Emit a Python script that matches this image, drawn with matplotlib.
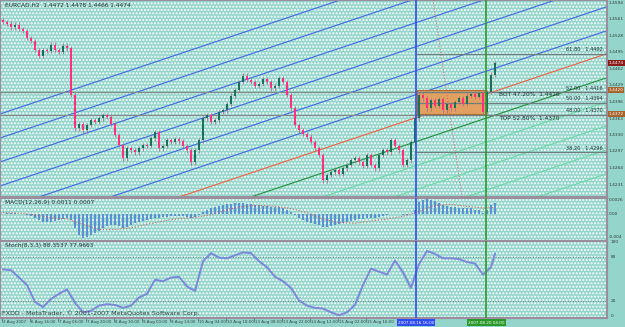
import matplotlib.pyplot as plt
import matplotlib.transforms as mtransforms
from matplotlib.patches import Rectangle

# candle closes (H2 bars), open of bar 0 given separately
first_open = 1.4560
closes = [1.4556, 1.4552, 1.4546, 1.4550, 1.4542, 1.4538, 1.4524, 1.4518, 1.4500, 1.4488,
          1.4500, 1.4498, 1.4510, 1.4500, 1.4496, 1.4508, 1.4504, 1.4410, 1.4344, 1.4352,
          1.4340, 1.4350, 1.4360, 1.4356, 1.4364, 1.4370, 1.4366, 1.4352, 1.4330, 1.4310,
          1.4284, 1.4304, 1.4300, 1.4296, 1.4304, 1.4310, 1.4308, 1.4324, 1.4336, 1.4304,
          1.4308, 1.4320, 1.4316, 1.4322, 1.4318, 1.4308, 1.4300, 1.4276, 1.4300, 1.4320,
          1.4364, 1.4370, 1.4356, 1.4360, 1.4376, 1.4380, 1.4392, 1.4408, 1.4420, 1.4436,
          1.4448, 1.4440, 1.4436, 1.4428, 1.4432, 1.4442, 1.4436, 1.4424, 1.4428, 1.4444,
          1.4436, 1.4410, 1.4384, 1.4350, 1.4340, 1.4332, 1.4326, 1.4316, 1.4304, 1.4290,
          1.4240, 1.4250, 1.4256, 1.4260, 1.4252, 1.4264, 1.4270, 1.4280, 1.4284, 1.4276,
          1.4268, 1.4290, 1.4270, 1.4264, 1.4290, 1.4300, 1.4296, 1.4320, 1.4308, 1.4300,
          1.4270, 1.4280, 1.4316, 1.4364, 1.4410, 1.4404, 1.4384, 1.4400, 1.4388, 1.4402,
          1.4380, 1.4392, 1.4384, 1.4396, 1.4404, 1.4392, 1.4408, 1.4412, 1.4406, 1.4414,
          1.4376, 1.4416, 1.4450, 1.4474]

# parallel channel lines: price at bar 0 and slope per bar
channel_slope = 0.000268
blue_lines = [1.4374, 1.4326, 1.4278, 1.4230, 1.4182, 1.4134]
red_line = 1.4088
green_dark = 1.4040
green_light = [1.3992, 1.3944, 1.3896, 1.3848, 1.3800]

# fibo levels on the right
fib_prices = [1.4492, 1.4416, 1.4394, 1.4370, 1.4296]
fib_names = ["61.80   1.4492", "52.00   1.4416", "50.00   1.4394", "48.00   1.4370", "38.20   1.4296"]
full_lines = [1.4416, 1.4370]
box_top, box_bot = 1.4420, 1.4372
fib_base_x = [107.5, 114.75]
fib_base_y = [1.4600, 1.4206]

blue_vline = 103.25
green_vline = 120.75

price_ticks = [1.4594, 1.4561, 1.4528, 1.4495, 1.4462, 1.4429, 1.4396, 1.4363, 1.4330, 1.4297, 1.4264, 1.4231]

macd_hist = [0.0000, 0.0002, 0.0002, 0.0002, 0.0000, 0.0000, -0.0002, -0.0004, -0.0008, -0.0012,
             -0.0016, -0.0016, -0.0016, -0.0014, -0.0012, -0.0010, -0.0008, -0.0012, -0.0028, -0.0040,
             -0.0046, -0.0044, -0.0040, -0.0036, -0.0032, -0.0028, -0.0024, -0.0022, -0.0022, -0.0024,
             -0.0028, -0.0026, -0.0022, -0.0018, -0.0016, -0.0014, -0.0012, -0.0010, -0.0008, -0.0008,
             -0.0006, -0.0006, -0.0004, -0.0004, -0.0004, -0.0004, -0.0006, -0.0008, -0.0006, -0.0002,
             0.0004, 0.0008, 0.0010, 0.0012, 0.0014, 0.0016, 0.0018, 0.0018, 0.0020, 0.0020,
             0.0020, 0.0018, 0.0018, 0.0016, 0.0016, 0.0014, 0.0014, 0.0012, 0.0012, 0.0012,
             0.0010, 0.0008, 0.0004, -0.0002, -0.0008, -0.0012, -0.0016, -0.0018, -0.0020, -0.0022,
             -0.0026, -0.0026, -0.0024, -0.0022, -0.0020, -0.0018, -0.0016, -0.0014, -0.0012, -0.0010,
             -0.0010, -0.0008, -0.0008, -0.0008, -0.0006, -0.0004, -0.0002, 0.0000, 0.0000, 0.0000,
             -0.0002, -0.0002, 0.0000, 0.0008, 0.0022, 0.0026, 0.0028, 0.0026, 0.0024, 0.0020,
             0.0016, 0.0014, 0.0012, 0.0012, 0.0010, 0.0010, 0.0010, 0.0010, 0.0008, 0.0008,
             0.0002, 0.0008, 0.0016, 0.0020]
macd_sig_idx = [0, 4, 8, 12, 16, 20, 24, 28, 32, 36, 40, 44, 48, 52, 56, 60, 64, 68, 72, 76,
                80, 84, 88, 92, 96, 100, 104, 108, 112, 116, 120, 123]
macd_sig = [0.0002, 0.0001, -0.0002, -0.0008, -0.0010, -0.0020, -0.0030, -0.0030, -0.0027, -0.0020,
            -0.0014, -0.0009, -0.0007, -0.0002, 0.0008, 0.0014, 0.0016, 0.0014, 0.0010, 0.0002,
            -0.0010, -0.0017, -0.0018, -0.0014, -0.0010, -0.0005, 0.0004, 0.0016, 0.0018, 0.0014,
            0.0011, 0.0012]

stoch_idx = [0, 2, 4, 6, 8, 10, 12, 14, 16, 18, 20, 22, 24, 26, 28, 30, 32, 34, 36, 38,
             40, 42, 44, 46, 48, 50, 52, 54, 56, 58, 60, 62, 64, 66, 68, 70, 72, 74, 76, 78,
             80, 82, 84, 86, 88, 90, 92, 94, 96, 98, 100, 102, 104, 106, 108, 110, 112, 114, 116, 118,
             120, 122, 123]
stoch_main = [63, 62, 52, 42, 19, 12, 23, 30, 36, 18, 5, 7, 14, 16, 15, 11, 14, 25, 30, 49,
              47, 52, 53, 40, 34, 74, 85, 79, 78, 82, 86, 85, 74, 66, 53, 47, 38, 21, 14, 11,
              10, 5, 1, 5, 15, 42, 64, 60, 56, 75, 59, 38, 70, 88, 84, 78, 78, 77, 73, 71,
              56, 66, 84]

time_idx = [0, 7, 14, 21, 28, 35, 42, 49, 56, 63, 70, 77, 84, 91]
time_labels = ["3 Aug 2007", "6 Aug 16:00", "7 Aug 06:00", "7 Aug 20:00", "8 Aug 10:00",
               "9 Aug 00:00", "9 Aug 14:00", "10 Aug 04:00", "10 Aug 18:00", "13 Aug 08:00",
               "13 Aug 22:00", "14 Aug 12:00", "15 Aug 02:00", "15 Aug 16:00"]

bg = '#93d5ca'
frame = '#9a8e9c'
xmin, xmax = -0.75, 151

fig = plt.figure(figsize=(6.25, 3.27), dpi=100, facecolor=bg)
W, H = 625.0, 327.0

def panel(top, bottom):
    a = fig.add_axes([0, 1 - bottom / H, 607 / W, (bottom - top) / H])
    a.set_facecolor(bg)
    a.add_patch(Rectangle((0, 0), 1, 1, transform=a.transAxes, facecolor='none',
                          edgecolor='white', hatch='.....', lw=0, zorder=0))
    for s in a.spines.values():
        s.set_color(frame)
        s.set_linewidth(1.5)
    a.set_xticks([])
    a.set_yticks([])
    a.set_xlim(xmin, xmax)
    return a

fs = 4.2
afs = 3.1

# ---------- price panel ----------
ax = panel(0, 197)
ax.set_ylim(1.4206, 1.4600)
xs = [xmin, xmax]
for p0 in blue_lines:
    ax.plot(xs, [p0 + channel_slope * x for x in xs], color='#3f66e6', lw=0.8, zorder=2)
ax.plot(xs, [red_line + channel_slope * x for x in xs], color='#f2603e', lw=0.8, zorder=2)
ax.plot(xs, [green_dark + channel_slope * x for x in xs], color='#1f8f3a', lw=0.8, zorder=2)
for p0 in green_light:
    ax.plot(xs, [p0 + channel_slope * x for x in xs], color='#6ad8a6', lw=0.8, zorder=2)

ax.add_patch(Rectangle((blue_vline + 0.25, box_bot), green_vline - blue_vline - 0.25, box_top - box_bot,
                       facecolor='#e2a060', edgecolor='#b86a28', lw=0.8, zorder=3))
for p in full_lines:
    ax.axhline(p, color='#7f8c8c', lw=0.9, zorder=3)
for p, name in zip(fib_prices, fib_names):
    ax.hlines(p, blue_vline, xmax, color='#6f7f7f', lw=0.9, zorder=3)
    ax.text(xmax - 1, p + 0.0003, name, fontsize=3.6, color='#203030', va='bottom', ha='right', zorder=6)
ax.plot(fib_base_x, fib_base_y, color='#e05a6a', lw=0.7, ls=(0, (1, 2)), zorder=3)
ax.text(124, 1.4410, "BOT 47.20%  1.4416", fontsize=fs, color='#203030', va='center', zorder=6)
ax.text(124, 1.4364, "TOP 52.80%  1.4370", fontsize=fs, color='#203030', va='center', zorder=6)

prev = first_open
for i, c in enumerate(closes):
    o = prev
    hi, lo = max(o, c) + 0.0005, min(o, c) - 0.0005
    col = '#1d6f5a' if c >= o else '#ff2f7e'
    ax.vlines(i, lo, hi, color='#b0708a', lw=0.6, zorder=4)
    ax.bar(i, max(abs(c - o), 0.00012), bottom=min(o, c), width=0.7, color=col, lw=0, zorder=5)
    prev = c

ax.axvline(blue_vline, color='#2f4cf0', lw=1.2, zorder=6)
ax.axvline(green_vline, color='#2a9a2a', lw=1.2, zorder=6)
ax.text(0.008, 0.985, "EURCAD,H2  1.4472 1.4478 1.4466 1.4474", transform=ax.transAxes,
        fontsize=fs, va='top', color='#203030', zorder=7)

tr = mtransforms.blended_transform_factory(ax.transAxes, ax.transData)
for p in price_ticks:
    ax.text(1.003, p, "%.4f" % p, transform=tr, fontsize=afs, va='center', color='#303838', clip_on=False)
for p, fc in [(closes[-1], '#8c1c1c'), (box_top, '#a8642c'), (box_bot, '#a8642c')]:
    ax.text(1.003, p, "%.4f" % p, transform=tr, fontsize=afs, va='center', color='white', clip_on=False,
            bbox=dict(boxstyle='square,pad=0.15', fc=fc, ec='none'), zorder=8)

# ---------- MACD panel ----------
am = panel(198, 241)
am.set_ylim(-0.0052, 0.0030)
am.bar(range(len(macd_hist)), macd_hist, width=0.45, color='#5b8fd6', lw=0, zorder=3)
am.plot(macd_sig_idx, macd_sig, color='#e04848', lw=0.7, ls=(0, (1, 2)), zorder=4)
am.axvline(blue_vline, color='#2f4cf0', lw=1.2, zorder=6)
am.axvline(green_vline, color='#2a9a2a', lw=1.2, zorder=6)
am.text(0.008, 0.95, "MACD(12,26,9) 0.0011 0.0007", transform=am.transAxes,
        fontsize=fs, va='top', color='#203030')
trm = mtransforms.blended_transform_factory(am.transAxes, am.transData)
for v, t in [(0.0026, "0.0026"), (0.0, "0.00"), (-0.0044, "-0.004")]:
    am.text(1.003, v, t, transform=trm, fontsize=afs, va='center', color='#303838', clip_on=False)

# ---------- Stochastic panel ----------
ast = panel(241, 318)
ast.set_ylim(-2.7, 101.4)
for lvl in [20, 80]:
    ast.axhline(lvl, color='#607070', lw=0.6, ls=(0, (1, 2)), zorder=2)
ast.plot(stoch_idx, stoch_main, color='#6f8ae8', lw=1.4, zorder=3)
ast.plot(stoch_idx, stoch_main, color='#e07070', lw=0.6, ls=(0, (1, 3)), zorder=4)
ast.axvline(blue_vline, color='#2f4cf0', lw=1.2, zorder=6)
ast.axvline(green_vline, color='#2a9a2a', lw=1.2, zorder=6)
ast.text(0.008, 0.97, "Stoch(8,3,3) 88.3537 77.9663", transform=ast.transAxes,
         fontsize=fs, va='top', color='#203030')
ast.text(0.004, 0.03, "FXDD - MetaTrader, \u00a9 2001-2007 MetaQuotes Software Corp.",
         transform=ast.transAxes, fontsize=4.6, va='bottom', color='#304040')
trs = mtransforms.blended_transform_factory(ast.transAxes, ast.transData)
for v in [100, 80, 20, 0]:
    ast.text(1.006, v, str(v), transform=trs, fontsize=afs, va='center', color='#303838', clip_on=False)

# ---------- time strip ----------
at = fig.add_axes([0, 0, 607 / W, 9 / H])
at.set_facecolor(bg)
at.set_xlim(xmin, xmax)
at.set_ylim(0, 1)
at.axis('off')
for i, lab in zip(time_idx, time_labels):
    at.text(i, 0.5, lab, fontsize=2.9, va='center', ha='left', color='#304040')
    at.vlines(i - 0.2, 0.55, 1, color='#506060', lw=0.5)
at.text(blue_vline, 0.5, "2007.08.16 16:00", fontsize=3.0, va='center', ha='center', color='white',
        bbox=dict(boxstyle='square,pad=0.3', fc='#2f4cf0', ec='none'), zorder=5)
at.text(green_vline, 0.5, "2007.08.20 04:00", fontsize=3.0, va='center', ha='center', color='white',
        bbox=dict(boxstyle='square,pad=0.3', fc='#2a9a2a', ec='none'), zorder=5)

fig.savefig('out.png', dpi=100, facecolor=bg)
